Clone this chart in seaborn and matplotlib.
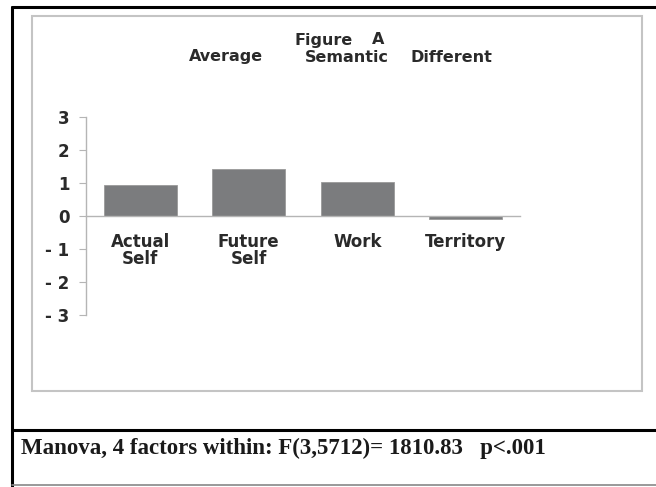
import matplotlib
matplotlib.use("Agg")
import matplotlib.pyplot as plt
from matplotlib.patches import Rectangle
from matplotlib.lines import Line2D
import seaborn as sns

# data
categories = ["Actual\nSelf", "Future\nSelf", "Work", "Territory"]
means = [0.93, 1.42, 1.02, -0.10]
y_ticks = [-3, -2, -1, 0, 1, 2, 3]
y_labels = ["- 3", "- 2", "- 1", "0", "1", "2", "3"]
caption = "Manova, 4 factors within: F(3,5712)= 1810.83   p<.001"

sns.set_style("white")
plt.rcParams['font.family'] = ['DejaVu Sans']

W, H = 656, 487
fig = plt.figure(figsize=(W / 100, H / 100), dpi=100)


def fx(px):
    return px / W


def fy(py):
    return 1 - py / H


# frames drawn in figure coords
fig.add_artist(Rectangle((fx(32), fy(391)), fx(642) - fx(32), fy(16) - fy(391),
                         transform=fig.transFigure, fill=False,
                         edgecolor="#c4c4c4", linewidth=1.5))
fig.add_artist(Line2D([fx(12), fx(12)], [fy(7), fy(486)], transform=fig.transFigure,
                      color="black", linewidth=2.2))
fig.add_artist(Line2D([fx(12), 1], [fy(7), fy(7)], transform=fig.transFigure,
                      color="black", linewidth=2.2))
fig.add_artist(Line2D([fx(12), 1], [fy(430), fy(430)], transform=fig.transFigure,
                      color="black", linewidth=2.2))
fig.add_artist(Line2D([fx(12), 1], [fy(485), fy(485)], transform=fig.transFigure,
                      color="#888888", linewidth=1.2))

ax = fig.add_axes([fx(86), fy(315), fx(520) - fx(86), fy(117) - fy(315)])
sns.barplot(x=categories, y=means, color="#7b7c7e", saturation=1, width=0.67,
            edgecolor="#9a9a9a", linewidth=0.6, ax=ax)

ax.set_xlim(-0.5, 3.5)
ax.set_ylim(-3, 3)
ax.set_yticks(y_ticks)
ax.set_yticklabels(y_labels)
ax.set_xticks(range(len(categories)))
ax.set_xticklabels(categories)
ax.set_xticks([i - 0.5 for i in range(len(categories) + 1)], minor=True)

sns.despine(ax=ax)
ax.spines['bottom'].set_position(('data', 0))
for s in ['left', 'bottom']:
    ax.spines[s].set_color("#b5b5b5")
    ax.spines[s].set_linewidth(1.0)

ax.tick_params(axis='x', which='major', length=0, pad=12, labelsize=12,
               labelcolor="#2a2a2a")
ax.tick_params(axis='x', which='minor', length=3, direction='out', color="#b5b5b5")
ax.tick_params(axis='y', length=5, color="#b5b5b5", pad=7, labelsize=12,
               labelcolor="#2a2a2a", left=True)
for lab in ax.get_xticklabels() + ax.get_yticklabels():
    lab.set_fontweight('bold')
    lab.set_linespacing(0.95)

# title words
tcol = "#2a2a2a"
fig.text(fx(324), fy(40), "Figure", ha='center', va='center', fontsize=11.5,
         fontweight='bold', color=tcol)
fig.text(fx(378), fy(40), "A", ha='center', va='center', fontsize=11.5,
         fontweight='bold', color=tcol)
fig.text(fx(226), fy(57), "Average", ha='center', va='center', fontsize=11.5,
         fontweight='bold', color=tcol)
fig.text(fx(347), fy(57), "Semantic", ha='center', va='center', fontsize=11.5,
         fontweight='bold', color=tcol)
fig.text(fx(451), fy(57), "Different", ha='center', va='center', fontsize=11.5,
         fontweight='bold', color=tcol)

fig.text(fx(21), fy(448), caption, ha='left', va='center', fontsize=16.5,
         fontweight='bold', family=['Liberation Serif'], color="#1a1a1a")

fig.savefig("out.png", dpi=100)
